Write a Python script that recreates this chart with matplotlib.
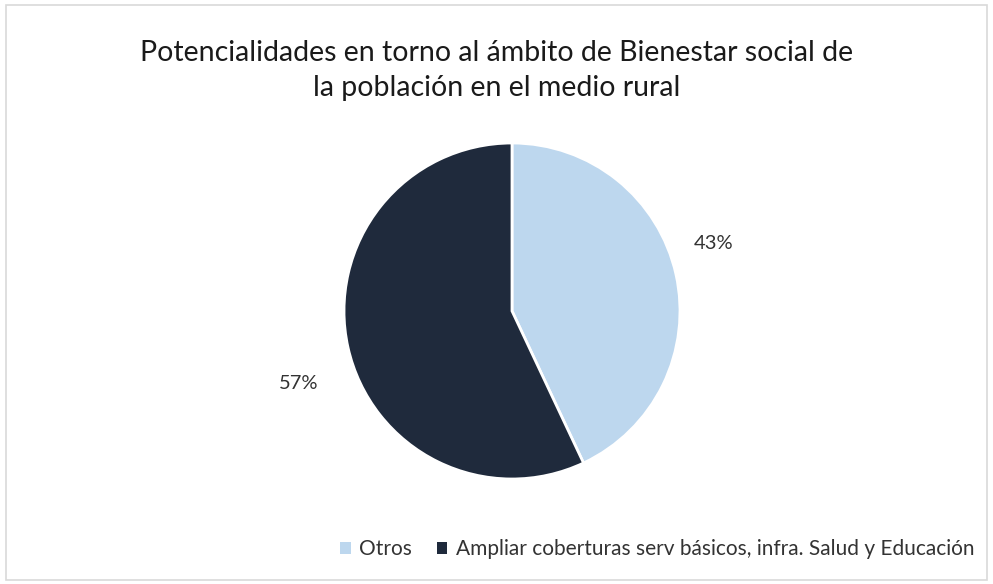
import matplotlib.pyplot as plt
from matplotlib.patches import Patch, Rectangle

categorias = ['Otros', 'Ampliar coberturas serv básicos, infra. Salud y Educación']
valores = [43, 57]
colores = ['#BDD7EE', '#1F2A3C']
titulo = 'Potencialidades en torno al ámbito de Bienestar social de\nla población en el medio rural'

plt.rcParams['font.family'] = ['Lato', 'DejaVu Sans']

fig = plt.figure(figsize=(9.93, 5.84), dpi=100)

# marco gris del gráfico
fig.patches.append(Rectangle((0.006, 0.006), 0.988, 0.985, transform=fig.transFigure,
                             fill=False, edgecolor='#D9D9D9', linewidth=1.2))

fig.text(0.5, 0.879, titulo, ha='center', va='center', fontsize=20.5,
         color='#1a1a1a', linespacing=1.45)

# pastel: centro (512, 311) px, radio 168 px
cx, cy, r = 512, 311, 168
ax = fig.add_axes([(cx - r) / 993, (584 - cy - r) / 584, 2 * r / 993, 2 * r / 584])
wedges, textos, autotextos = ax.pie(valores, colors=colores, startangle=90, counterclock=False,
                                    autopct='%1.0f%%', pctdistance=1.28,
                                    wedgeprops=dict(edgecolor='white', linewidth=2),
                                    textprops=dict(fontsize=14.5, color='#333333'))
# ajuste fino de etiquetas (mejor posición como en Excel)
autotextos[0].set_position((1.20, 0.40))
autotextos[1].set_position((-1.27, -0.43))
ax.set_xlim(-1, 1)
ax.set_ylim(-1, 1)
ax.set_aspect('equal')
ax.axis('off')

handles = [Patch(facecolor=c, edgecolor='none') for c in colores]
fig.legend(handles, categorias, loc='center right', bbox_to_anchor=(1.0, 0.06), ncol=2,
           frameon=False, fontsize=15, handlelength=0.5, handleheight=0.5,
           handletextpad=0.4, columnspacing=1.2, labelcolor='#333333')

fig.savefig('out.png', dpi=100)
